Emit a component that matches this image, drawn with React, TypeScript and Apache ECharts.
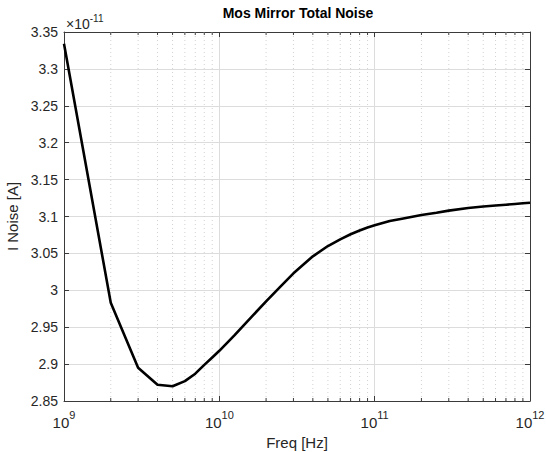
import React, { useEffect, useRef } from "react";
import * as echarts from "echarts";

// Frequency sweep points (Hz) and total noise (units of 1e-11 A)
const FREQ_HZ = [
  1e9, 2e9, 3e9, 4e9, 5e9, 6e9, 7e9, 8e9, 9e9, 1e10,
  1.25e10, 1.5e10, 2e10, 2.5e10, 3e10, 4e10, 5e10, 6e10, 7e10, 8e10, 9e10, 1e11,
  1.25e11, 1.5e11, 2e11, 2.5e11, 3e11, 4e11, 5e11, 6e11, 7e11, 8e11, 9e11, 1e12,
];
const NOISE_E11 = [
  3.334, 2.983, 2.895, 2.872, 2.870, 2.877, 2.887, 2.899, 2.909, 2.918,
  2.939, 2.957, 2.985, 3.006, 3.023, 3.046, 3.060, 3.069, 3.076, 3.081, 3.085, 3.088,
  3.094, 3.097, 3.102, 3.105, 3.108, 3.1115, 3.1135, 3.115, 3.116, 3.117, 3.118, 3.1187,
];
const Y_EXPONENT = "-11";
const Y_MIN = 2.85;
const Y_MAX = 3.35;
const Y_STEP = 0.05;
const X_MIN = 1e9;
const X_MAX = 1e12;
const MINOR_MULT = [2, 3, 4, 5, 6, 7, 8, 9];
const MINOR_DECADES = [1e9, 1e10, 1e11];

const TITLE = "Mos Mirror Total Noise";
const X_NAME = "Freq [Hz]";
const Y_NAME = "I Noise [A]";

const FONT = "'Liberation Sans', Arial, Helvetica, sans-serif";
const AXIS_COLOR = "#3a3a3a";
const TEXT_COLOR = "#262626";

export default function App() {
  const ref = useRef<HTMLDivElement>(null);

  useEffect(() => {
    if (!ref.current) return;
    const chart = echarts.init(ref.current, null, { renderer: "svg" });

    const minorFreqs: number[] = [];
    MINOR_DECADES.forEach((d) => MINOR_MULT.forEach((m) => minorFreqs.push(m * d)));

    const option: any = {
      animation: false,
      backgroundColor: "#ffffff",
      grid: {
        left: 64,
        right: 16,
        top: 32,
        bottom: 51,
        containLabel: false,
        outerBoundsMode: "none",
      },
      graphic: [
        {
          type: "text",
          x: 298,
          y: 6,
          style: {
            text: TITLE,
            font: `bold 14px ${FONT}`,
            fill: "#000",
            textAlign: "center",
          },
        },
        {
          type: "text",
          x: 66,
          y: 13,
          style: {
            text: `{a|\u00d710}{b|${Y_EXPONENT}}`,
            rich: {
              a: { fontSize: 14, fontFamily: FONT, fill: TEXT_COLOR, lineHeight: 18, verticalAlign: "bottom" },
              b: { fontSize: 10, fontFamily: FONT, fill: TEXT_COLOR, lineHeight: 18, verticalAlign: "top" },
            },
          },
        },
      ],
      xAxis: [
        {
          type: "log",
          logBase: 10,
          min: X_MIN,
          max: X_MAX,
          splitNumber: 3,
          position: "bottom",
          name: X_NAME,
          nameLocation: "middle",
          nameGap: 33,
          nameTextStyle: { fontSize: 15, fontFamily: FONT, color: TEXT_COLOR },
          axisLine: { show: true, lineStyle: { color: AXIS_COLOR, width: 1 } },
          axisTick: { show: true, inside: true, length: 5, lineStyle: { color: AXIS_COLOR } },
          minorTick: { show: false },
          splitLine: { show: true, lineStyle: { color: "#dcdcdc", width: 1 } },
          axisLabel: {
            margin: 8,
            formatter: (v: number) => `{b|10}{s|${Math.round(Math.log10(v))}}`,
            rich: {
              b: { fontSize: 15, fontFamily: FONT, color: TEXT_COLOR, lineHeight: 21, verticalAlign: "bottom" },
              s: { fontSize: 11, fontFamily: FONT, color: TEXT_COLOR, lineHeight: 21, verticalAlign: "top" },
            },
          },
        },
        {
          type: "log",
          logBase: 10,
          min: X_MIN,
          max: X_MAX,
          splitNumber: 3,
          position: "top",
          axisLine: { show: true, lineStyle: { color: AXIS_COLOR, width: 1 } },
          axisTick: { show: true, inside: true, length: 5, lineStyle: { color: AXIS_COLOR } },
          axisLabel: { show: false },
          splitLine: { show: false },
        },
      ],
      yAxis: [
        {
          type: "value",
          min: Y_MIN,
          max: Y_MAX,
          interval: Y_STEP,
          position: "left",
          name: Y_NAME,
          nameLocation: "middle",
          nameGap: 37,
          nameTextStyle: { fontSize: 15, fontFamily: FONT, color: TEXT_COLOR },
          axisLine: { show: true, lineStyle: { color: AXIS_COLOR, width: 1 } },
          axisTick: { show: true, inside: true, length: 5, lineStyle: { color: AXIS_COLOR } },
          splitLine: { show: true, lineStyle: { color: "#dcdcdc", width: 1 } },
          axisLabel: {
            margin: 6,
            fontSize: 14,
            fontFamily: FONT,
            color: TEXT_COLOR,
            formatter: (v: number) => String(Math.round(v * 100) / 100),
          },
        },
        {
          type: "value",
          min: Y_MIN,
          max: Y_MAX,
          interval: Y_STEP,
          position: "right",
          axisLine: { show: true, lineStyle: { color: AXIS_COLOR, width: 1 } },
          axisTick: { show: true, inside: true, length: 5, lineStyle: { color: AXIS_COLOR } },
          axisLabel: { show: false },
          splitLine: { show: false },
        },
      ],
      series: [
        {
          type: "custom",
          xAxisIndex: 0,
          yAxisIndex: 0,
          silent: true,
          z: 1,
          clip: false,
          data: minorFreqs.map((f) => [f, Y_MIN]),
          renderItem: (params: any, api: any) => {
            const f = api.value(0);
            const p0 = api.coord([f, Y_MIN]);
            const p1 = api.coord([f, Y_MAX]);
            return {
              type: "group",
              children: [
                {
                  type: "line",
                  shape: { x1: p0[0], y1: p0[1], x2: p1[0], y2: p1[1] },
                  style: { stroke: "#d2d2d2", lineWidth: 1, lineDash: [1, 3] },
                },
                {
                  type: "line",
                  shape: { x1: p0[0], y1: p0[1], x2: p0[0], y2: p0[1] - 3 },
                  style: { stroke: AXIS_COLOR, lineWidth: 1 },
                },
                {
                  type: "line",
                  shape: { x1: p1[0], y1: p1[1], x2: p1[0], y2: p1[1] + 3 },
                  style: { stroke: AXIS_COLOR, lineWidth: 1 },
                },
              ],
            };
          },
        },
        {
          type: "line",
          xAxisIndex: 0,
          yAxisIndex: 0,
          z: 3,
          showSymbol: false,
          symbol: "none",
          data: FREQ_HZ.map((f, i) => [f, NOISE_E11[i]]),
          lineStyle: { color: "#000000", width: 2.6, join: "round" },
        },
      ],
    };

    chart.setOption(option);
    return () => chart.dispose();
  }, []);

  return (
    <div
      ref={ref}
      style={{ position: "absolute", left: 0, top: 0, width: 546, height: 452, background: "#fff" }}
    />
  );
}
